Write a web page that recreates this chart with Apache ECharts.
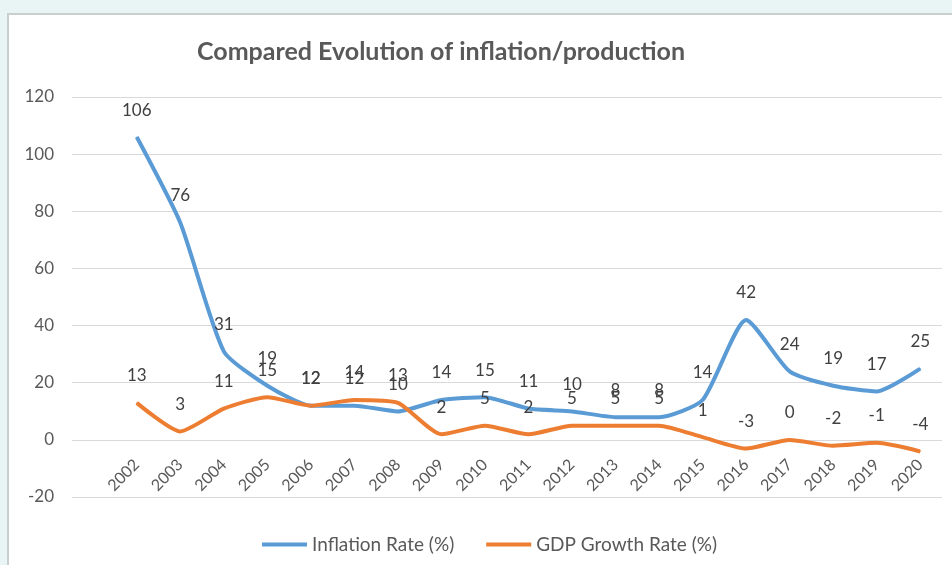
<!DOCTYPE html>
<html>
<head>
<meta charset="utf-8">
<script src="https://cdn.jsdelivr.net/npm/echarts@6/dist/echarts.min.js"></script>
<style>
  html, body { margin: 0; padding: 0; background: #e9f5f5; }
  #box { position: absolute; left: 7px; top: 13px; width: 960px; height: 560px;
         background: #fff; border-left: 2px solid #c9cfcf; border-top: 2px solid #c9cfcf; }
  #chart { position: absolute; left: 0; top: 0; width: 952px; height: 565px; }
</style>
</head>
<body>
<div id="box"></div>
<div id="chart"></div>
<script>
var years = ['2002','2003','2004','2005','2006','2007','2008','2009','2010','2011',
             '2012','2013','2014','2015','2016','2017','2018','2019','2020'];
var inflation = [106, 76, 31, 19, 12, 12, 10, 14, 15, 11, 10, 8, 8, 14, 42, 24, 19, 17, 25];
var gdpGrowth = [13, 3, 11, 15, 12, 14, 13, 2, 5, 2, 5, 5, 5, 1, -3, 0, -2, -1, -4];

var textColor = '#595959';
var font = 'Lato';

var chart = echarts.init(document.getElementById('chart'));

// label shared by both lines
var pointLabel = {
    show: true,
    position: 'top',
    distance: 18,
    fontSize: 17,
    fontFamily: font,
    color: '#404040'
};

var option = {
    animation: false,
    title: {
        text: 'Compared Evolution of inflation/production',
        left: 192,
        top: 34,
        textStyle: { fontFamily: font, fontSize: 25, fontWeight: 'bold', color: textColor }
    },
    legend: {
        left: 257,
        top: 530,
        itemWidth: 45,
        itemHeight: 4,
        itemGap: 32,
        icon: 'rect',
        textStyle: { fontFamily: font, fontSize: 19, color: textColor }
    },
    grid: [
        // gridlines + y labels, -20..120
        { left: 72, right: 10, top: 97, bottom: 68 },
        // data area, top part 0..120 so the category axis sits on zero
        { left: 115, right: 10, top: 97, bottom: 125 }
    ],
    xAxis: [
        { gridIndex: 0, type: 'category', data: years, show: false },
        {
            gridIndex: 1,
            type: 'category',
            data: years,
            boundaryGap: true,
            axisLine: { show: false },
            axisTick: { show: false },
            axisLabel: { rotate: 45, margin: 22, fontFamily: font, fontSize: 16, color: textColor }
        }
    ],
    yAxis: [
        {
            gridIndex: 0,
            type: 'value',
            min: -20, max: 120, interval: 20,
            axisLine: { show: false },
            axisTick: { show: false },
            axisLabel: { margin: 18, fontFamily: font, fontSize: 17, color: textColor },
            splitLine: { lineStyle: { color: '#d9d9d9', width: 1 } }
        },
        {
            gridIndex: 1,
            type: 'value',
            min: 0, max: 120, interval: 20,
            show: false,
            splitLine: { show: false }
        }
    ],
    series: [
        {
            name: 'Inflation Rate (%)',
            type: 'line',
            xAxisIndex: 1,
            yAxisIndex: 1,
            data: inflation,
            clip: false,
            smooth: 0.2,
            symbol: 'circle',
            symbolSize: 1,
            lineStyle: { color: '#5b9bd5', width: 4 },
            itemStyle: { color: '#5b9bd5' },
            label: pointLabel
        },
        {
            name: 'GDP Growth Rate (%)',
            type: 'line',
            xAxisIndex: 1,
            yAxisIndex: 1,
            data: gdpGrowth,
            clip: false,
            smooth: 0.2,
            symbol: 'circle',
            symbolSize: 1,
            lineStyle: { color: '#ed7d31', width: 4 },
            itemStyle: { color: '#ed7d31' },
            label: pointLabel
        }
    ]
};
option && chart.setOption(option);
</script>
</body>
</html>
